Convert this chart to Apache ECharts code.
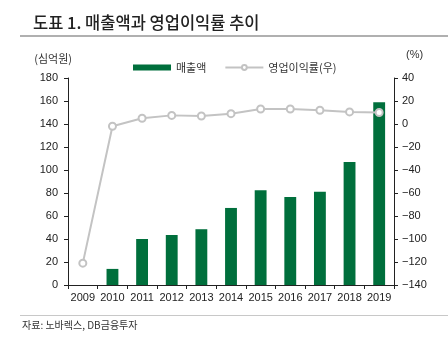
<!DOCTYPE html>
<html><head><meta charset="utf-8">
<script src="https://cdn.jsdelivr.net/npm/echarts@6/dist/echarts.min.js"></script>
<style>html,body{margin:0;padding:0;background:#fff}#c{width:448px;height:339px}</style>
</head><body><div id="c"></div>
<script>
var categories = ['2009','2010','2011','2012','2013','2014','2015','2016','2017','2018','2019'];
var sales = [0, 14, 40, 43.5, 48.5, 67, 82.5, 76.5, 81, 107, 159];
var opMargin = [-121, -2, 5, 7.5, 7, 9, 13, 13, 12, 10.5, 10];
var leftTicks = {min: 0, max: 180, interval: 20};
var rightTicks = {min: -140, max: 40, interval: 20};

var FONT = "'Liberation Sans','Noto Sans CJK KR',sans-serif";
var chart = echarts.init(document.getElementById('c'), null, {renderer:'canvas'});
chart.setOption({
  animation: false,
  textStyle: {fontFamily: FONT},
  title: {
    text: '도표 1. 매출액과 영업이익률 추이',
    left: 28, top: 9,
    textStyle: {fontFamily: "'Noto Sans CJK KR',sans-serif", fontSize: 16.5, fontWeight: 500, color: '#222'}
  },
  graphic: [
    {type:'rect', shape:{x:20, y:35, width:428, height:2}, style:{fill:'#b0b0b0'}},
    {type:'rect', shape:{x:20, y:315, width:428, height:1}, style:{fill:'#c8c8c8'}},
    {type:'text', left: 22, top: 320, style:{text:'자료: 노바렉스, DB금융투자', fontSize: 10, fill:'#333', fontFamily:"'Noto Sans CJK KR',sans-serif"}}
  ],
  legend: {
    top: 57, left: 128,
    itemGap: 18,
    textStyle: {fontSize: 11, color: '#333', fontFamily:"'Noto Sans CJK KR',sans-serif"},
    data: [
      {name:'매출액', icon:'rect', itemStyle:{color:'#006f3c'}},
      {name:'영업이익률(우)'}
    ],
    itemWidth: 38, itemHeight: 6
  },
  grid: {left: 68, right: 54, top: 78, bottom: 54, containLabel: false},
  xAxis: {
    type: 'category', data: categories,
    axisLine: {lineStyle: {color: '#222', width: 1}},
    axisTick: {show: true, length: 4, lineStyle:{color:'#222'}},
    axisLabel: {color: '#222', fontSize: 11, margin: 7, interval: 0, hideOverlap: false}
  },
  yAxis: [
    {
      type: 'value', min: leftTicks.min, max: leftTicks.max, interval: leftTicks.interval,
      name: '(심억원)', nameLocation: 'end', nameGap: 14,
      nameTextStyle: {fontSize: 11, color: '#333', align: 'right', padding:[0,-4,0,0], fontFamily:"'Noto Sans CJK KR',sans-serif"},
      axisLine: {show: true, lineStyle: {color: '#222'}},
      axisTick: {show: true, length: 4, lineStyle:{color:'#222'}},
      axisLabel: {color: '#222', fontSize: 11, margin: 10},
      splitLine: {show: false}
    },
    {
      type: 'value', min: rightTicks.min, max: rightTicks.max, interval: rightTicks.interval,
      name: '(%)', nameLocation: 'end', nameGap: 18,
      nameTextStyle: {fontSize: 11, color: '#333', align: 'left', padding:[0,0,0,12]},
      axisLine: {show: true, lineStyle: {color: '#222'}},
      axisTick: {show: true, length: 4, lineStyle:{color:'#222'}},
      axisLabel: {color: '#222', fontSize: 11, margin: 8,
        formatter: function(v){ return v < 0 ? '\u2212' + Math.abs(v) : String(v); }},
      splitLine: {show: false}
    }
  ],
  series: [
    {
      name: '매출액', type: 'bar', data: sales, barWidth: '40%',
      itemStyle: {color: '#006f3c'}, yAxisIndex: 0
    },
    {
      name: '영업이익률(우)', type: 'line', data: opMargin, yAxisIndex: 1,
      symbol: 'emptyCircle', symbolSize: 7,
      lineStyle: {color: '#c3c3c3', width: 2},
      itemStyle: {color: '#c3c3c3', borderColor: '#c3c3c3', borderWidth: 1.5},
      z: 5
    }
  ]
});
</script></body></html>
